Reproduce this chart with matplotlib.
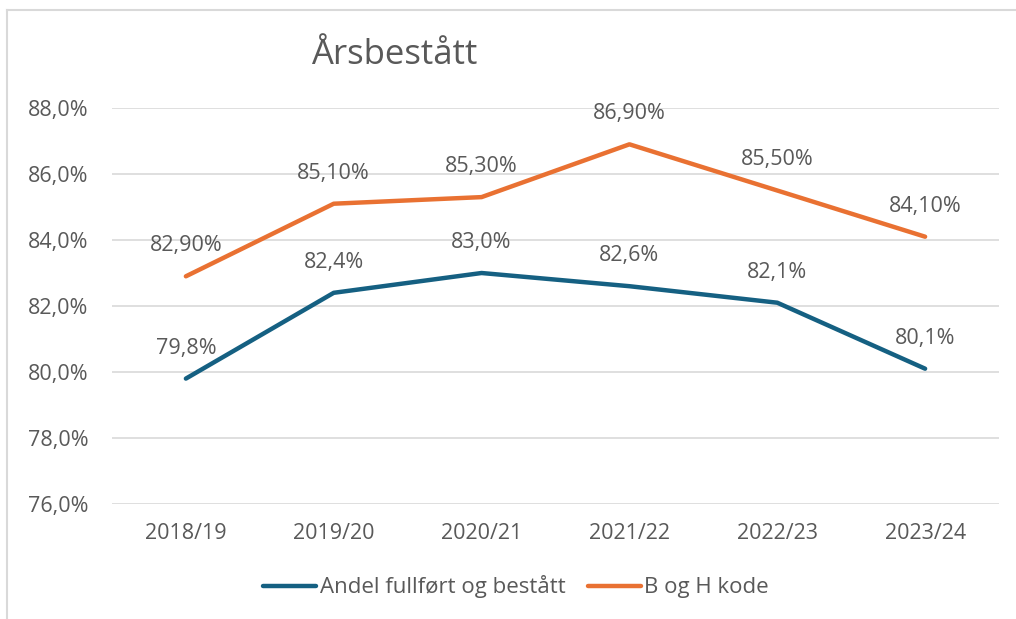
import matplotlib
matplotlib.use("Agg")
import matplotlib.pyplot as plt
from matplotlib.lines import Line2D
from matplotlib.ticker import FuncFormatter

plt.rcParams["font.family"] = ["Open Sans", "DejaVu Sans"]

years = ["2018/19", "2019/20", "2020/21", "2021/22", "2022/23", "2023/24"]
andel = [79.8, 82.4, 83.0, 82.6, 82.1, 80.1]
bh_kode = [82.9, 85.1, 85.3, 86.9, 85.5, 84.1]

blue = "#156082"
orange = "#E97132"
grey_txt = "#595959"
grid_c = "#D9D9D9"

fig = plt.figure(figsize=(10.16, 6.19), dpi=100)
ax = fig.add_axes([0.1102, 0.1858, 0.8731, 0.6397])

x = list(range(len(years)))
ax.plot(x, andel, color=blue, lw=3.2, solid_capstyle="round", solid_joinstyle="round")
ax.plot(x, bh_kode, color=orange, lw=3.2, solid_capstyle="round", solid_joinstyle="round")

for i, v in enumerate(andel):
    ax.annotate(f"{v:.1f}%".replace(".", ","), (i, v), xytext=(0, 22), textcoords="offset points",
                ha="center", va="center", fontsize=15.5, color=grey_txt)
for i, v in enumerate(bh_kode):
    ax.annotate(f"{v:.2f}%".replace(".", ","), (i, v), xytext=(0, 22), textcoords="offset points",
                ha="center", va="center", fontsize=15.5, color=grey_txt)

ax.set_xlim(-0.5, len(years) - 0.5)
ax.set_ylim(76, 88)
ax.set_yticks([76, 78, 80, 82, 84, 86, 88])
ax.yaxis.set_major_formatter(FuncFormatter(lambda v, p: f"{v:.1f}%".replace(".", ",")))
ax.set_xticks(x)
ax.set_xticklabels(years)
ax.tick_params(axis="both", length=0, labelsize=15.5, labelcolor=grey_txt)
ax.tick_params(axis="y", pad=17)
ax.tick_params(axis="x", pad=14)
ax.grid(axis="y", color=grid_c, lw=1.2)
ax.set_axisbelow(True)
for s in ax.spines.values():
    s.set_visible(False)

fig.text(394 / 1016, 1 - 55 / 619, "Årsbestått", ha="center", va="center", fontsize=25, color=grey_txt)

handles = [Line2D([], [], color=blue, lw=3.2, solid_capstyle="round"),
           Line2D([], [], color=orange, lw=3.2, solid_capstyle="round")]
fig.legend(handles, ["Andel fullført og bestått", "B og H kode"], loc="center",
           bbox_to_anchor=(516 / 1016, 1 - 587 / 619), ncol=2, frameon=False,
           fontsize=16, labelcolor=grey_txt, handlelength=2.4, handletextpad=0.15,
           columnspacing=1.0)

# chart-area frame (left and top edges visible)
fig.add_artist(Line2D([7 / 1016, 7 / 1016], [0, 1 - 10 / 619], color="#D9D9D9", lw=1.5))
fig.add_artist(Line2D([7 / 1016, 1], [1 - 10 / 619, 1 - 10 / 619], color="#D9D9D9", lw=1.5))

fig.savefig("out.png", dpi=100)
